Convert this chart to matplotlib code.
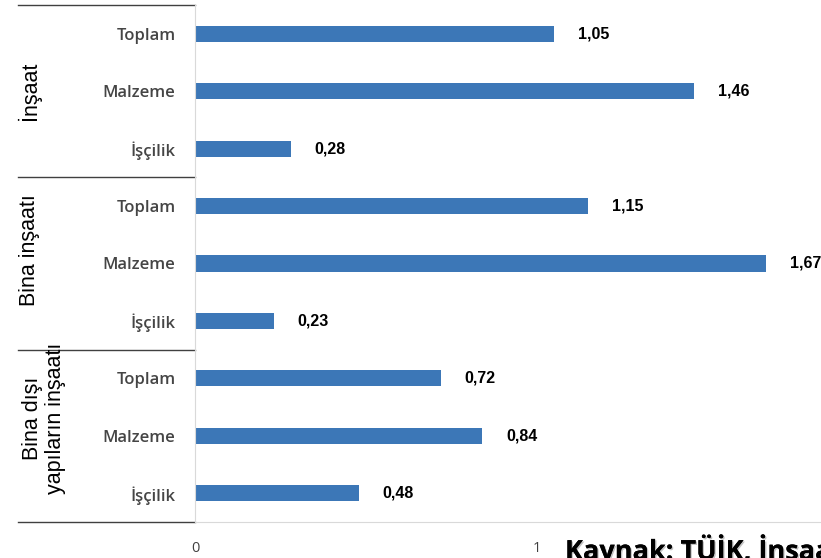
import matplotlib.pyplot as plt
import matplotlib.transforms as mtransforms
import matplotlib.patheffects as pe

# veri
groups = ['İnşaat', 'Bina inşaatı', 'Bina dışı\nyapıların inşaatı']
categories = ['Toplam', 'Malzeme', 'İşçilik']
values_insaat = [1.05, 1.46, 0.28]
values_bina = [1.15, 1.67, 0.23]
values_bina_disi = [0.72, 0.84, 0.48]

all_values = values_insaat + values_bina + values_bina_disi
labels = categories * 3
n = len(all_values)
ypos = list(range(n))

fig = plt.figure(figsize=(8.21, 5.58), dpi=100)
ax = fig.add_axes([195 / 821, 36 / 558, 626 / 821, 517 / 558])

ax.barh(ypos, all_values, height=0.28, color='#3C77B7')
ax.set_ylim(n - 0.5, -0.5)
ax.set_xlim(0, 626 / 342)

ax.set_xticks([0, 1])
ax.set_xticklabels(['0', '1'], fontsize=10.5, color='#404040', family='Open Sans')
ax.tick_params(axis='x', length=0, pad=14)
ax.set_yticks(ypos)
ax.set_yticklabels(labels, fontsize=12, color='#454545', family='Open Sans',
                   fontweight='semibold')
ax.tick_params(axis='y', length=0, pad=14)

for s in ['top', 'right']:
    ax.spines[s].set_visible(False)
ax.spines['left'].set_color('#d9d9d9')
ax.spines['bottom'].set_color('#d9d9d9')

# değer etiketleri
for y, v in zip(ypos, all_values):
    ax.annotate(f'{v:.2f}'.replace('.', ','), (v, y), xytext=(17, 0),
                textcoords='offset points', va='center', ha='left',
                fontsize=11.5, fontweight='bold', family='Liberation Sans')

# grup çizgileri ve etiketleri
trans = mtransforms.blended_transform_factory(ax.transAxes, ax.transData)
for b in [-0.5, 2.5, 5.5, 8.5]:
    ax.plot([-177 / 626, 0], [b, b], transform=trans, color='#404040',
            lw=1, clip_on=False)

group_x = [29, 30, 44]
group_y = [1.0, 3.77, 6.7]
for i, g in enumerate(groups):
    ax.text(-(195 - group_x[i]) / 626, group_y[i], g, transform=trans,
            rotation=90, ha='center', va='center', fontsize=15.5,
            family='Liberation Sans', linespacing=1.1)

fig.text(565 / 821, 1 - 550 / 558, 'Kaynak: TÜİK, İnşaat maliyet endeksi',
         fontsize=19.5, fontweight='bold', family='Open Sans', va='center', ha='left',
         path_effects=[pe.withSimplePatchShadow(offset=(1, -1), shadow_rgbFace='#999999', alpha=0.6),
                       pe.Normal()])

fig.savefig('out.png', dpi=100)
